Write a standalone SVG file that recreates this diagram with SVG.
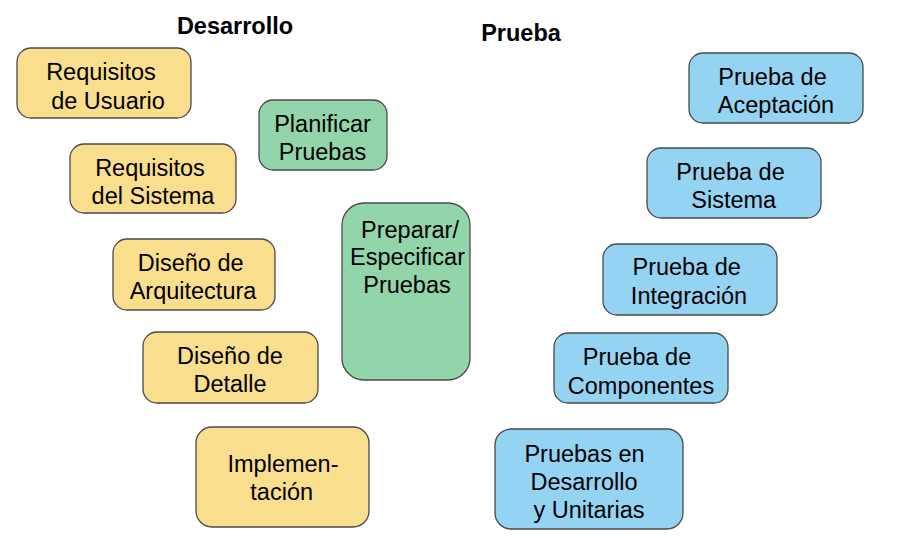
<svg xmlns="http://www.w3.org/2000/svg" width="906" height="538" viewBox="0 0 906 538">
<style>
.box{stroke:#4a4a4a;stroke-width:1.3}
.dev{fill:#F9DE8E}
.tst{fill:#93D5AB}
.prb{fill:#95D3F3}
.t{font-family:"Liberation Sans",Arial,sans-serif;font-size:23.5px;fill:#000;text-anchor:middle}
.h{font-family:"Liberation Sans",Arial,sans-serif;font-size:23.5px;font-weight:bold;fill:#000;text-anchor:middle}
</style>
<rect width="906" height="538" fill="#fff"/>
<g id="titles">
<text class="h" x="235" y="34">Desarrollo</text>
<text class="h" x="521" y="41">Prueba</text>
</g>
<g id="connectors"></g>
<g id="n1"><rect class="box dev" x="17" y="48" width="174" height="70" rx="14"/>
<text class="t"><tspan x="101" y="80">Requisitos</tspan><tspan x="108" y="108.5">de Usuario</tspan></text></g>
<g id="n2"><rect class="box dev" x="70" y="144" width="166" height="69" rx="14"/>
<text class="t"><tspan x="150" y="175.5">Requisitos</tspan><tspan x="153" y="203.5">del Sistema</tspan></text></g>
<g id="n3"><rect class="box tst" x="259" y="100" width="128" height="70" rx="14"/>
<text class="t"><tspan x="322.5" y="131.5">Planificar</tspan><tspan x="322.5" y="159.5">Pruebas</tspan></text></g>
<g id="n4"><rect class="box tst" x="342" y="203" width="128" height="177" rx="22"/>
<text class="t"><tspan x="410" y="237.7">Preparar/</tspan><tspan x="407.5" y="265.3">Especificar</tspan><tspan x="407" y="293.3">Pruebas</tspan></text></g>
<g id="n5"><rect class="box dev" x="113" y="239" width="162" height="71" rx="14"/>
<text class="t"><tspan x="190.7" y="271">Diseño de</tspan><tspan x="193" y="299">Arquitectura</tspan></text></g>
<g id="n6"><rect class="box dev" x="143" y="332" width="175" height="71" rx="14"/>
<text class="t"><tspan x="230" y="363.5">Diseño de</tspan><tspan x="230" y="392">Detalle</tspan></text></g>
<g id="n7"><rect class="box dev" x="196" y="427" width="173" height="100" rx="16"/>
<text class="t"><tspan x="283" y="472">Implemen-</tspan><tspan x="281.7" y="500">tación</tspan></text></g>
<g id="n8"><rect class="box prb" x="689" y="53" width="174" height="70" rx="14"/>
<text class="t"><tspan x="772.5" y="85">Prueba de</tspan><tspan x="776" y="112.7">Aceptación</tspan></text></g>
<g id="n9"><rect class="box prb" x="647" y="148" width="174" height="70" rx="14"/>
<text class="t"><tspan x="730.5" y="180">Prueba de</tspan><tspan x="733.7" y="207.5">Sistema</tspan></text></g>
<g id="n10"><rect class="box prb" x="603" y="244" width="174" height="71" rx="14"/>
<text class="t"><tspan x="686.7" y="275">Prueba de</tspan><tspan x="689" y="304">Integración</tspan></text></g>
<g id="n11"><rect class="box prb" x="554" y="333" width="174" height="70" rx="14"/>
<text class="t"><tspan x="637" y="365">Prueba de</tspan><tspan x="641" y="393.5">Componentes</tspan></text></g>
<g id="n12"><rect class="box prb" x="495" y="429" width="188" height="100" rx="16"/>
<text class="t"><tspan x="584.5" y="461.5">Pruebas en</tspan><tspan x="584" y="489.5">Desarrollo</tspan><tspan x="589" y="517.5">y Unitarias</tspan></text></g>
</svg>
